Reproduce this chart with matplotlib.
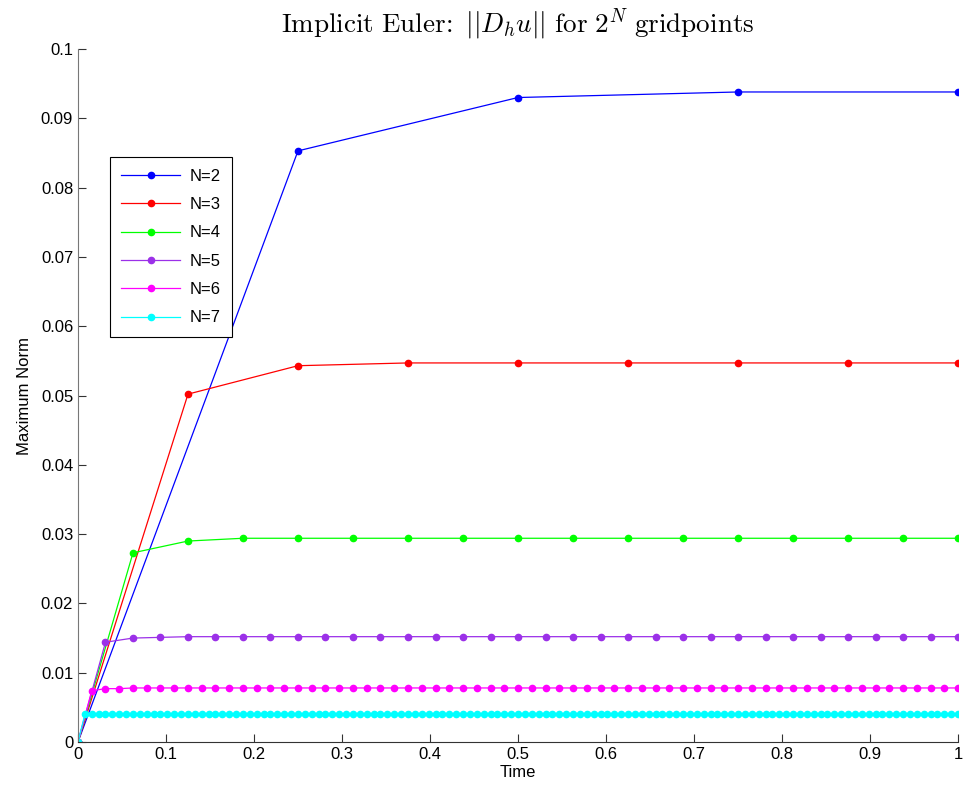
import matplotlib
matplotlib.use('Agg')
import matplotlib.pyplot as plt
import numpy as np

plt.rcParams['font.family'] = ['Liberation Sans', 'DejaVu Sans']
plt.rcParams['mathtext.fontset'] = 'cm'

# max norm values, one list per grid size (2^N steps on [0,1])
n2 = [0.0, 0.0853, 0.0930, 0.0938, 0.0938]
n3 = [0.0, 0.0502, 0.0543] + [0.0547] * 6
n4 = [0.0, 0.0273, 0.0290] + [0.0294] * 14
n5 = [0.0, 0.0144, 0.0150, 0.0151] + [0.0152] * 29
n6 = [0.0, 0.0074, 0.0077, 0.0077] + [0.0078] * 61
n7 = [0.0] + [0.0040] * 128

series = [n2, n3, n4, n5, n6, n7]
labels = ['N=2', 'N=3', 'N=4', 'N=5', 'N=6', 'N=7']
colors = ['#0000ff', '#ff0000', '#00ff00', '#9b30e8', '#ff00ff', '#00ffff']

fig = plt.figure(figsize=(9.64, 7.93), dpi=100)
ax = fig.add_axes([0.0809, 0.0643, 0.9129, 0.8739])

for vals, lab, c in zip(series, labels, colors):
    t = np.linspace(0, 1, len(vals))
    ax.plot(t, vals, '-o', color=c, lw=0.9, ms=4.5, label=lab)

ax.set_xlim(0, 1)
ax.set_ylim(0, 0.1)
ax.set_xticks(np.arange(0, 1.01, 0.1))
ax.set_xticklabels(['0', '0.1', '0.2', '0.3', '0.4', '0.5', '0.6', '0.7', '0.8', '0.9', '1'])
ax.set_yticks(np.arange(0, 0.101, 0.01))
ax.set_yticklabels(['0', '0.01', '0.02', '0.03', '0.04', '0.05', '0.06', '0.07', '0.08', '0.09', '0.1'])
ax.tick_params(direction='in', length=6, labelsize=12, colors='#333333', labelcolor='black')
ax.spines['top'].set_visible(False)
ax.spines['right'].set_visible(False)
ax.spines['left'].set_color('#777777')
ax.spines['bottom'].set_color('#333333')

ax.set_xlabel('Time', fontsize=12, labelpad=2)
ax.set_ylabel('Maximum Norm', fontsize=12, labelpad=6)
ax.set_title(r'$\mathrm{Implicit\ Euler\!:}\ ||D_h u||\ \mathrm{for}\ 2^N\ \mathrm{gridpoints}$',
             fontsize=19.5, pad=12)

leg = ax.legend(loc='upper left', bbox_to_anchor=(0.036, 0.844), borderaxespad=0,
                fontsize=12, fancybox=False, framealpha=1, edgecolor='black',
                handlelength=3.5, handletextpad=0.6, borderpad=0.7, labelspacing=0.8)
leg.get_frame().set_linewidth(0.8)

fig.savefig('out.png', dpi=100)
